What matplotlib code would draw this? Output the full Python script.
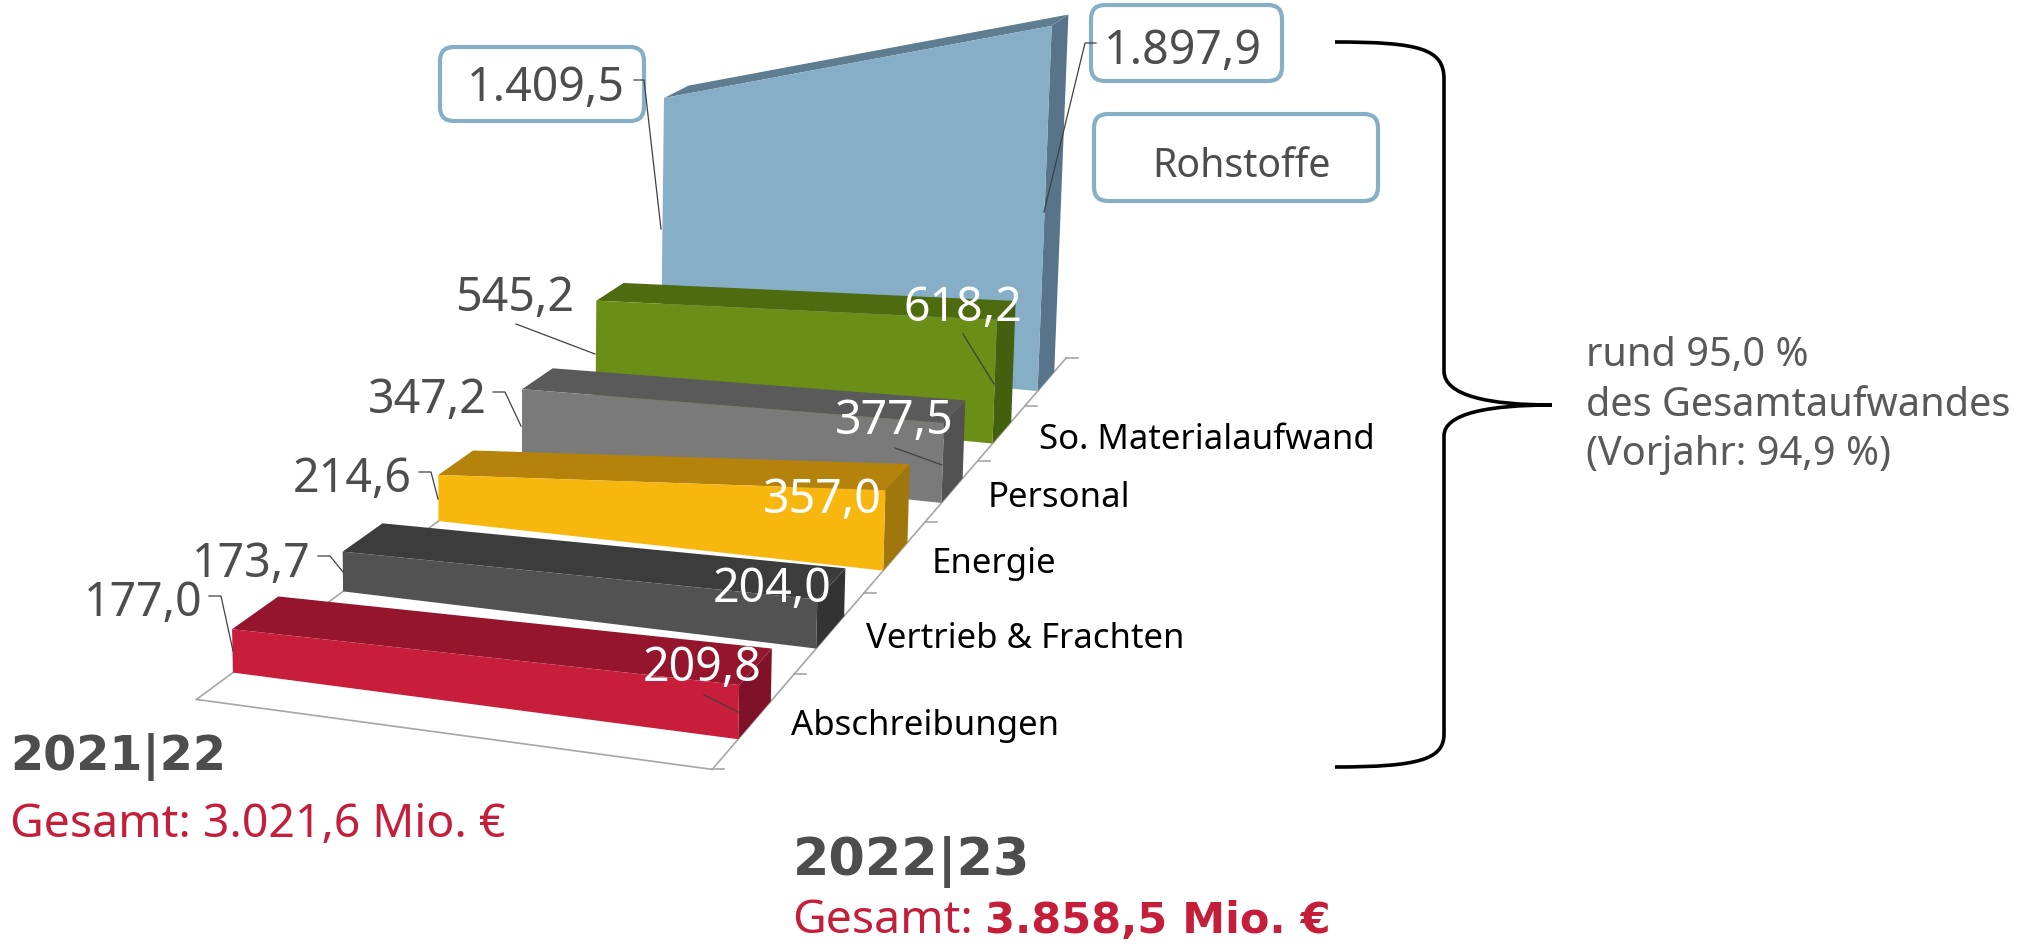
import numpy as np
import matplotlib
matplotlib.use("Agg")
import matplotlib.pyplot as plt
from matplotlib.patches import FancyBboxPatch, PathPatch
from matplotlib.path import Path

plt.rcParams['font.family'] = ['Noto Sans', 'DejaVu Sans']

categories = ["Abschreibungen", "Vertrieb & Frachten", "Energie", "Personal", "So. Materialaufwand", "Rohstoffe"]
values_2021 = [177.0, 173.7, 214.6, 347.2, 545.2, 1409.5]
values_2022 = [209.8, 204.0, 357.0, 377.5, 618.2, 1897.9]

def de(v):
    return f"{v:,.1f}".replace(",", "X").replace(".", ",").replace("X", ".")

# pinhole camera: (year axis x 0..1, category depth d, value z in thousands) -> pixel
P = np.array([[475.0316, 139.876365, -9.21975, 196.474334],
              [25.93006, -36.324551, -262.516806, 700.444828],
              [-0.057149, 0.079009, -0.018352, 1.0]])

def proj(x, d, z):
    h = P @ np.array([x, d, z / 1000, 1.0])
    return h[0] / h[2], h[1] / h[2]

face = ["#C81E3C", "#525252", "#F7B70E", "#7A7A7A", "#6B8E17", "#87AEC7"]
top = ["#95152D", "#3C3C3C", "#B5830B", "#5A5A5A", "#4E6B10", "#5F7D90"]
side = ["#7F1128", "#333333", "#A0770B", "#525252", "#42600E", "#57748A"]

fig = plt.figure(figsize=(20.37, 9.45), dpi=100)
ax = fig.add_axes([0, 0, 1, 1])
ax.set_xlim(0, 2037)
ax.set_ylim(945, 0)
ax.axis('off')

# floor
fl = "#A6A6A6"
ax.plot(*zip(proj(0, 0, 0), proj(1, 0, 0)), color=fl, lw=1.2, zorder=0.5)
ax.plot(*zip(proj(0, 0, 0), proj(0, 5, 0)), color=fl, lw=1.2, zorder=0.5)
ax.plot(*zip(proj(1, 0, 0), proj(1, 6, 0)), color=fl, lw=1.2, zorder=0.5)
for i in range(7):
    u, v = proj(1, i, 0)
    ax.plot([u, u + 12], [v, v], color=fl, lw=1.2, zorder=0.5)

for i in range(5, -1, -1):
    a, b = values_2021[i], values_2022[i]
    f, k = i + .3, i + .7
    zo = 1 + (5 - i) * 0.1
    ax.fill(*zip(proj(1, f, 0), proj(1, k, 0), proj(1, k, b), proj(1, f, b)), color=side[i], lw=0, zorder=zo)
    ax.fill(*zip(proj(0, f, a), proj(1, f, b), proj(1, k, b), proj(0, k, a)), color=top[i], lw=0, zorder=zo)
    ax.fill(*zip(proj(0, f, 0), proj(1, f, 0), proj(1, f, b), proj(0, f, a)), color=face[i], lw=0, zorder=zo)

grey = "#4D4D4D"
for (x0, y0, x1, y1) in [(440, 48, 644, 122), (1091, 6, 1282, 82), (1094, 115, 1378, 202)]:
    ax.add_patch(FancyBboxPatch((x0 + 14, y0 + 14), x1 - x0 - 28, y1 - y0 - 28,
                                boxstyle="round,pad=14,rounding_size=14", fc='white', ec="#86AEC5", lw=3, zorder=2))

leaders = [[(634, 81), (644, 81), (661, 230)], [(1096, 44), (1085, 44), (1044, 213)], [(516, 325), (595, 355)],
           [(963, 335), (994, 385)], [(493, 393), (505, 393), (521, 427)], [(895, 449), (942, 466)],
           [(419, 473), (431, 473), (438, 500)], [(318, 557), (330, 557), (343, 573)],
           [(209, 597), (221, 597), (233, 652)], [(704, 696), (738, 713)]]
for l in leaders:
    ax.plot(*zip(*l), color="#404040", lw=0.9, zorder=2.5)

pos_2021 = [(143, 616), (251, 577), (352, 492), (427, 413), (515, 311), (546, 101)]
pos_2022 = [(702, 681), (772, 602), (822, 513), (894, 434), (963, 321), (1183, 64)]
colr_2022 = ['white'] * 5 + [grey]
for i in range(6):
    ax.text(*pos_2021[i], de(values_2021[i]), ha='center', va='baseline', fontsize=33.5, color=grey)
    ax.text(*pos_2022[i], de(values_2022[i]), ha='center', va='baseline', fontsize=33.5, color=colr_2022[i])
ax.text(1241, 177, categories[5], ha='center', va='baseline', fontsize=28.3, color=grey)
for c, (x, y) in zip(categories[:5], [(791, 735), (866, 648), (932, 573), (988, 507), (1039, 449)]):
    ax.text(x, y, c, ha='left', va='baseline', fontsize=25, color='black')

bold = ['DejaVu Sans']
red = "#C41E3A"
ax.text(10, 770, "2021|22", fontsize=34.3, fontweight='bold', family=bold, color=grey, va='baseline')
ax.text(10, 837, "Gesamt: 3.021,6 Mio. €", fontsize=33.4, color=red, va='baseline')
ax.text(793, 875, "2022|23", fontsize=37.7, fontweight='bold', family=bold, color=grey, va='baseline')
ax.text(792, 933, "Gesamt:", fontsize=33.4, color=red, va='baseline')
ax.text(985, 933, "3.858,5 Mio. €", fontsize=31, fontweight='bold', family=bold, color=red, va='baseline')
for y, t in [(366, "rund 95,0 %"), (416, "des Gesamtaufwandes"), (465, "(Vorjahr: 94,9 %)")]:
    ax.text(1586, y, t, fontsize=28.6, color="#595959", va='baseline')

verts = [(1335, 43), (1420, 43), (1444, 50), (1444, 80), (1444, 372), (1444, 397), (1490, 406), (1552, 406),
         (1490, 406), (1444, 414), (1444, 437), (1444, 735), (1444, 760), (1420, 768), (1335, 768)]
codes = [Path.MOVETO, Path.CURVE4, Path.CURVE4, Path.CURVE4, Path.LINETO, Path.CURVE4, Path.CURVE4, Path.CURVE4,
         Path.CURVE4, Path.CURVE4, Path.CURVE4, Path.LINETO, Path.CURVE4, Path.CURVE4, Path.CURVE4]
ax.add_patch(PathPatch(Path(verts, codes), fc='none', ec='black', lw=2.6))

fig.savefig("out.png", dpi=100)
